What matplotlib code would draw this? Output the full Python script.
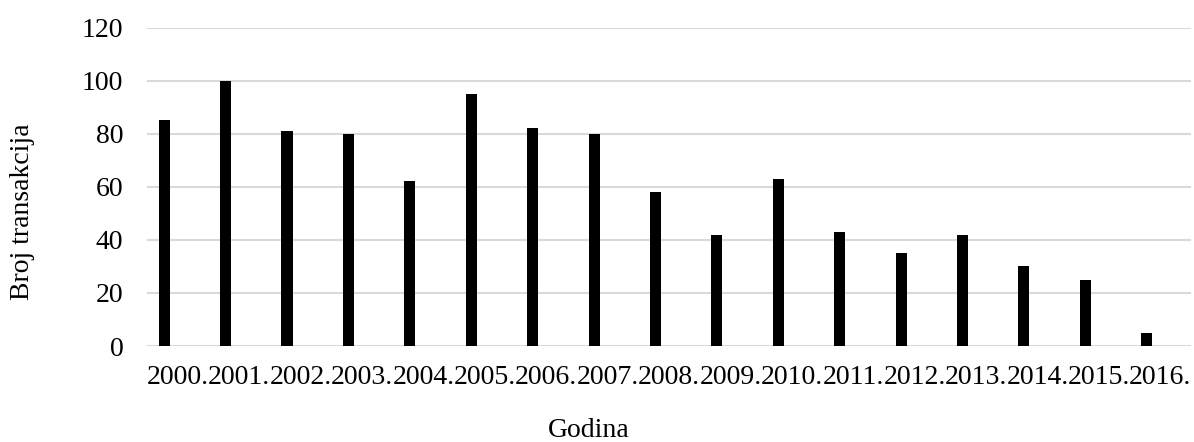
import matplotlib
matplotlib.use("Agg")
import matplotlib.pyplot as plt
import numpy as np

years = ["2000.", "2001.", "2002.", "2003.", "2004.", "2005.", "2006.", "2007.", "2008.",
         "2009.", "2010.", "2011.", "2012.", "2013.", "2014.", "2015.", "2016."]
transactions = [85, 100, 81, 80, 62, 95, 82, 80, 58, 42, 63, 43, 35, 42, 30, 25, 5]
y_ticks = [0, 20, 40, 60, 80, 100, 120]

plt.rcParams["font.family"] = ["Liberation Serif", "DejaVu Serif"]

W, H = 1194, 442
fig = plt.figure(figsize=(W / 100, H / 100), dpi=100)
ax = fig.add_axes([147 / W, 1 - 346 / H, (1191 - 147) / W, (346 - 27.5) / H])

x = np.arange(len(years))
ax.bar(x - 0.22, transactions, width=0.18, color="black", zorder=3)

ax.set_xlim(-0.5, len(years) - 0.5)
ax.set_ylim(0, 120)
ax.set_yticks(y_ticks)
ax.set_yticklabels([str(v) for v in y_ticks])
ax.set_xticks(x)
ax.set_xticklabels(years)

ax.grid(axis="y", color="#d9d9d9", linewidth=1.5, zorder=0)
for s in ax.spines.values():
    s.set_visible(False)
ax.tick_params(axis="both", length=0, labelsize=20, colors="black")
ax.tick_params(axis="y", pad=17)
ax.tick_params(axis="x", pad=14)

fig.text(23 / W, 1 - 212 / H, "Broj transakcija", rotation=90, ha="center", va="center", fontsize=20)
fig.text(589 / W, 1 - 437 / H, "Godina", ha="center", va="baseline", fontsize=20)

fig.savefig("out.png", dpi=100)
